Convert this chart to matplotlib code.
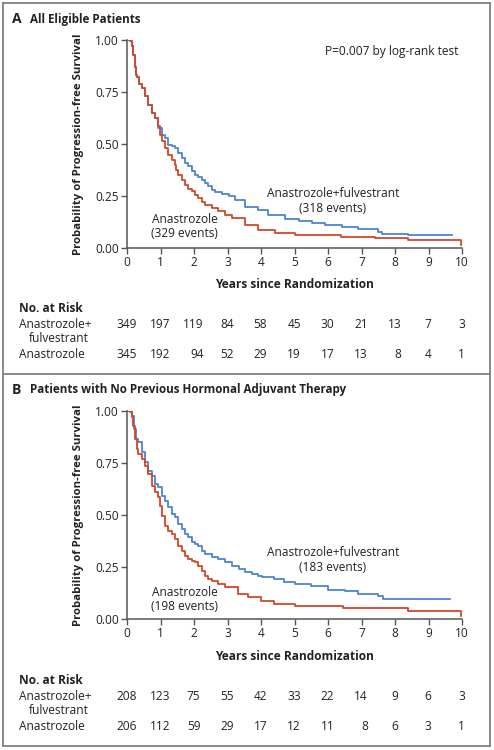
import matplotlib
matplotlib.use("Agg")
import matplotlib.pyplot as plt
from matplotlib.transforms import blended_transform_factory
from matplotlib.lines import Line2D

plt.rcParams['font.family'] = ['Open Sans', 'DejaVu Sans']

# ---------------- data ----------------
years_ticks = [0, 1, 2, 3, 4, 5, 6, 7, 8, 9, 10]
y_ticks = [0.0, 0.25, 0.5, 0.75, 1.0]

# Panel A
a_combo_t = [0, 0.09, 0.14, 0.19, 0.24, 0.26, 0.29, 0.36, 0.44, 0.54, 0.64, 0.74, 0.84, 0.94, 1.03,
             1.13, 1.23, 1.33, 1.43, 1.53, 1.63, 1.73, 1.83, 1.93, 2.03, 2.13, 2.23, 2.33, 2.43,
             2.53, 2.63, 2.83, 3.03, 3.22, 3.52, 3.92, 4.22, 4.72, 5.12, 5.51, 5.91, 6.41, 6.9,
             7.5, 7.6, 8.4, 9.69]
a_combo_s = [1.0, 0.994, 0.97, 0.93, 0.87, 0.83, 0.82, 0.79, 0.77, 0.73, 0.689, 0.649, 0.625, 0.577,
             0.545, 0.529, 0.497, 0.489, 0.481, 0.457, 0.433, 0.409, 0.393, 0.369, 0.353, 0.340,
             0.329, 0.313, 0.297, 0.281, 0.27, 0.26, 0.249, 0.231, 0.195, 0.183, 0.159, 0.138,
             0.131, 0.122, 0.111, 0.103, 0.09, 0.079, 0.068, 0.061, 0.061]
a_ana_t = [0, 0.09, 0.14, 0.19, 0.24, 0.26, 0.29, 0.36, 0.44, 0.54, 0.64, 0.74, 0.84, 0.92, 0.94,
           0.99, 1.04, 1.13, 1.23, 1.33, 1.43, 1.46, 1.53, 1.63, 1.73, 1.83, 1.93, 2.03, 2.13,
           2.23, 2.33, 2.53, 2.73, 2.93, 3.13, 3.52, 3.92, 4.42, 5.0, 6.4, 7.4, 8.4, 9.97]
a_ana_s = [1.0, 0.994, 0.97, 0.93, 0.87, 0.83, 0.82, 0.79, 0.77, 0.73, 0.689, 0.649, 0.625, 0.609,
           0.585, 0.545, 0.513, 0.481, 0.449, 0.425, 0.401, 0.377, 0.353, 0.329, 0.305, 0.285,
           0.272, 0.256, 0.24, 0.221, 0.208, 0.192, 0.176, 0.16, 0.144, 0.111, 0.087, 0.071,
           0.063, 0.051, 0.047, 0.039, 0.015]
a_risk_combo = [349, 197, 119, 84, 58, 45, 30, 21, 13, 7, 3]
a_risk_ana = [345, 192, 94, 52, 29, 19, 17, 13, 8, 4, 1]

# Panel B
b_combo_t = [0, 0.14, 0.22, 0.26, 0.34, 0.44, 0.54, 0.64, 0.74, 0.84, 0.94, 1.03, 1.13, 1.23,
             1.33, 1.43, 1.53, 1.63, 1.73, 1.83, 1.93, 2.03, 2.13, 2.23, 2.33, 2.53, 2.73, 2.93,
             3.13, 3.33, 3.52, 3.72, 3.92, 4.02, 4.4, 4.7, 5.0, 5.5, 6.0, 6.5, 6.9, 7.5, 7.65, 9.65]
b_combo_s = [1.0, 0.978, 0.913, 0.865, 0.849, 0.801, 0.753, 0.713, 0.689, 0.649, 0.633, 0.593,
             0.569, 0.537, 0.505, 0.489, 0.457, 0.433, 0.409, 0.393, 0.369, 0.361, 0.353, 0.329,
             0.313, 0.297, 0.289, 0.273, 0.256, 0.24, 0.224, 0.216, 0.208, 0.2, 0.192, 0.176,
             0.168, 0.16, 0.14, 0.136, 0.12, 0.112, 0.096, 0.096]
b_ana_t = [0, 0.09, 0.14, 0.19, 0.24, 0.29, 0.34, 0.44, 0.54, 0.64, 0.74, 0.84, 0.94, 0.99, 1.03,
           1.13, 1.23, 1.33, 1.43, 1.53, 1.63, 1.73, 1.83, 1.93, 2.03, 2.13, 2.23, 2.33, 2.43,
           2.53, 2.73, 2.93, 3.3, 3.6, 4.0, 4.4, 5.0, 6.45, 8.4, 9.97]
b_ana_s = [1.0, 0.994, 0.97, 0.93, 0.865, 0.817, 0.793, 0.769, 0.737, 0.697, 0.641, 0.609, 0.585,
           0.545, 0.497, 0.449, 0.425, 0.409, 0.385, 0.353, 0.329, 0.305, 0.288, 0.28, 0.272,
           0.256, 0.232, 0.208, 0.192, 0.184, 0.168, 0.152, 0.12, 0.104, 0.088, 0.072, 0.064,
           0.053, 0.04, 0.016]
b_risk_combo = [208, 123, 75, 55, 42, 33, 22, 14, 9, 6, 3]
b_risk_ana = [206, 112, 59, 29, 17, 12, 11, 8, 6, 3, 1]

panels = [
    dict(letter="A", title="All Eligible Patients", ct=a_combo_t, cs=a_combo_s, at=a_ana_t, as_=a_ana_s,
         rc=a_risk_combo, ra=a_risk_ana, combo_lab="Anastrozole+fulvestrant\n(318 events)",
         ana_lab="Anastrozole\n(329 events)", combo_xy=(6.15, 0.226), ana_xy=(1.72, 0.103),
         pval="P=0.007 by log-rank test"),
    dict(letter="B", title="Patients with No Previous Hormonal Adjuvant Therapy", ct=b_combo_t, cs=b_combo_s,
         at=b_ana_t, as_=b_ana_s, rc=b_risk_combo, ra=b_risk_ana,
         combo_lab="Anastrozole+fulvestrant\n(183 events)", ana_lab="Anastrozole\n(198 events)",
         combo_xy=(6.15, 0.284), ana_xy=(1.72, 0.094), pval=None),
]

# ---------------- style ----------------
W, H = 494, 750
RED = "#D2472B"
BLUE = "#4C84D4"
AX = "#555555"
TXT = "#222222"
FS = 8.6

fig = plt.figure(figsize=(W / 100, H / 100), dpi=100)

def fy(py):
    return 1 - py / H

def fx(px):
    return px / W

# frame
frame_c = "#808080"
for (x0, y0, x1, y1) in [(3, 3, 490, 3), (3, 746, 490, 746), (3, 3, 3, 746), (490, 3, 490, 746), (3, 374, 490, 374)]:
    fig.add_artist(Line2D([fx(x0), fx(x1)], [fy(y0), fy(y1)], color=frame_c, lw=1.3, transform=fig.transFigure))

layouts = [
    dict(top=40, bottom=248, title_y=19, xlabel_y=285, nar_y=309, r1=325, r1b=339, r2=354, pval_y=51),
    dict(top=411, bottom=619, title_y=390, xlabel_y=657, nar_y=681, r1=697, r1b=710, r2=726, pval_y=None),
]

L, R = 127, 462
digit_w = 6.3 * 10 / (R - L)  # digit width in data units

for p, lay in zip(panels, layouts):
    ax = fig.add_axes([fx(L), fy(lay['bottom']), fx(R) - fx(L), (lay['bottom'] - lay['top']) / H])
    ax.step(p['ct'], p['cs'], where='post', color=BLUE, lw=1.3)
    ax.step(p['at'], p['as_'], where='post', color=RED, lw=1.3)
    ax.set_xlim(0, 10)
    ax.set_ylim(0, 1.0)
    ax.set_xticks(years_ticks)
    ax.set_yticks(y_ticks)
    ax.set_yticklabels([f"{v:.2f}" for v in y_ticks])
    for s in ['top', 'right']:
        ax.spines[s].set_visible(False)
    for s in ['left', 'bottom']:
        ax.spines[s].set_color(AX)
        ax.spines[s].set_linewidth(1.1)
    ax.tick_params(axis='both', direction='out', length=4.5, width=1.0, color=AX,
                   labelsize=FS, labelcolor=TXT, pad=1.5)
    ax.patch.set_alpha(0)
    ax.set_ylabel("Probability of Progression-free Survival", fontsize=8.2, fontweight='bold', color=TXT)
    ax.yaxis.set_label_coords((84 - L) / (R - L), 0.5)

    ax.text(p['combo_xy'][0], p['combo_xy'][1], p['combo_lab'], ha='center', va='center',
            fontsize=FS, color=TXT, linespacing=1.15)
    ax.text(p['ana_xy'][0], p['ana_xy'][1], p['ana_lab'], ha='center', va='center',
            fontsize=FS, color=TXT, linespacing=1.15)

    fig.text(fx(12), fy(lay['title_y']), p['letter'], fontsize=10, fontweight='bold', color=TXT, va='center')
    fig.text(fx(30), fy(lay['title_y']), p['title'], fontsize=8.4, fontweight='bold', color=TXT, va='center')
    if p['pval']:
        fig.text(fx(325), fy(lay['pval_y']), p['pval'], fontsize=FS, color=TXT, va='center')

    fig.text(fx((L + R) / 2), fy(lay['xlabel_y']), "Years since Randomization", fontsize=FS,
             fontweight='bold', color=TXT, ha='center', va='center')

    fig.text(fx(19), fy(lay['nar_y']), "No. at Risk", fontsize=FS, fontweight='bold', color=TXT, va='center')
    fig.text(fx(19), fy(lay['r1']), "Anastrozole+", fontsize=FS, color=TXT, va='center')
    fig.text(fx(29), fy(lay['r1b']), "fulvestrant", fontsize=FS, color=TXT, va='center')
    fig.text(fx(19), fy(lay['r2']), "Anastrozole", fontsize=FS, color=TXT, va='center')
    tr = blended_transform_factory(ax.transData, fig.transFigure)
    for t, c, a in zip(years_ticks, p['rc'], p['ra']):
        nd = max(len(str(c)), len(str(a)))
        xr = t + nd * digit_w / 2
        ax.text(xr, fy(lay['r1']), str(c), transform=tr, ha='right', va='center', fontsize=FS,
                color=TXT, clip_on=False)
        ax.text(xr, fy(lay['r2']), str(a), transform=tr, ha='right', va='center', fontsize=FS,
                color=TXT, clip_on=False)

fig.savefig("out.png", dpi=100)
